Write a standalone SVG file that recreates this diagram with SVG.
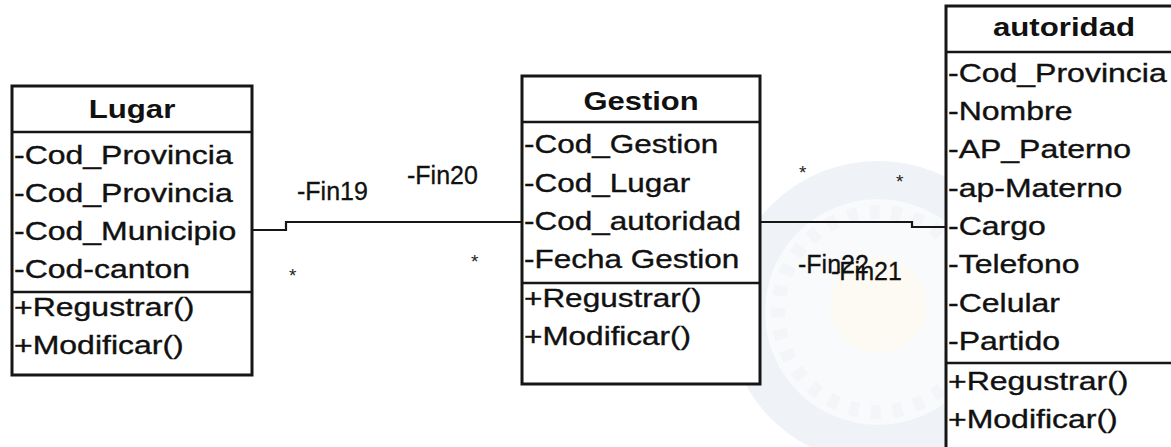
<svg xmlns="http://www.w3.org/2000/svg" width="1171" height="447" viewBox="0 0 1171 447">
  <style>
    .box { fill: #ffffff; stroke: #161616; stroke-width: 3; }
    .sep { stroke: #161616; stroke-width: 2.5; }
    .title { font-family: "Liberation Sans", Arial, sans-serif; font-size: 26px; font-weight: bold; fill: #111111; text-anchor: middle; }
    .attr { font-family: "Liberation Sans", Arial, sans-serif; font-size: 25px; fill: #111111; stroke: #111111; stroke-width: 0.35; }
    .role { font-family: "Liberation Sans", Arial, sans-serif; font-size: 25px; fill: #111111; stroke: #111111; stroke-width: 0.3; }
    .mult { font-family: "Liberation Sans", Arial, sans-serif; font-size: 19px; fill: #222222; }
    .link { fill: none; stroke: #161616; stroke-width: 2.2; }
  </style>

  <rect x="0" y="0" width="1171" height="447" fill="#ffffff"/>

  <!-- faint seal in the background -->
  <g id="seal" opacity="0.55">
    <circle cx="878" cy="312" r="150" fill="#f4f6f9"/>
    <circle cx="878" cy="312" r="132" fill="none" stroke="#e2e8ef" stroke-width="38"/>
    <circle cx="878" cy="312" r="100" fill="none" stroke="#eaeef3" stroke-width="14" stroke-dasharray="10 12"/>
    <circle cx="878" cy="305" r="48" fill="#faf7e8"/>
  </g>

  <!-- associations -->
  <g id="connectors">
    <polyline class="link" points="252,230 286,230 286,222 522,222"/>
    <polyline class="link" points="760,222 912,222 912,227 946,227"/>
    <text class="role" x="297" y="200">-Fin19</text>
    <text class="role" x="407" y="184">-Fin20</text>
    <text class="mult" x="289" y="282">*</text>
    <text class="mult" x="471" y="268">*</text>
    <text class="mult" x="799" y="179">*</text>
    <text class="mult" x="896" y="188">*</text>
    <text class="role" x="798" y="273">-Fin22</text>
    <text class="role" x="831" y="280">-Fin21</text>
  </g>

  <!-- class Lugar -->
  <g id="lugar">
    <rect class="box" x="12" y="86" width="240" height="289"/>
    <line class="sep" x1="12" y1="132" x2="252" y2="132"/>
    <line class="sep" x1="12" y1="292" x2="252" y2="292"/>
    <text class="title" transform="translate(132 118) scale(1.2 1)">Lugar</text>
    <g transform="translate(14 0) scale(1.28 1)">
      <text class="attr" y="164">-Cod_Provincia</text>
      <text class="attr" y="202">-Cod_Provincia</text>
      <text class="attr" y="240">-Cod_Municipio</text>
      <text class="attr" y="278">-Cod-canton</text>
      <text class="attr" y="316">+Regustrar()</text>
      <text class="attr" y="354">+Modificar()</text>
    </g>
  </g>

  <!-- class Gestion -->
  <g id="gestion">
    <rect class="box" x="522" y="76" width="238" height="308"/>
    <line class="sep" x1="522" y1="122" x2="760" y2="122"/>
    <line class="sep" x1="522" y1="283" x2="760" y2="283"/>
    <text class="title" transform="translate(641 110) scale(1.19 1)">Gestion</text>
    <g transform="translate(524 0) scale(1.26 1)">
      <text class="attr" y="153">-Cod_Gestion</text>
      <text class="attr" y="192">-Cod_Lugar</text>
      <text class="attr" y="230">-Cod_autoridad</text>
      <text class="attr" y="268">-Fecha Gestion</text>
      <text class="attr" y="307">+Regustrar()</text>
      <text class="attr" y="345">+Modificar()</text>
    </g>
  </g>

  <!-- class autoridad -->
  <g id="autoridad">
    <rect class="box" x="946" y="6" width="236" height="448"/>
    <line class="sep" x1="946" y1="52" x2="1182" y2="52"/>
    <line class="sep" x1="946" y1="363" x2="1182" y2="363"/>
    <text class="title" transform="translate(1064 36) scale(1.2 1)">autoridad</text>
    <g transform="translate(948 0) scale(1.28 1)">
      <text class="attr" y="82">-Cod_Provincia</text>
      <text class="attr" y="120">-Nombre</text>
      <text class="attr" y="158">-AP_Paterno</text>
      <text class="attr" y="197">-ap-Materno</text>
      <text class="attr" y="235">-Cargo</text>
      <text class="attr" y="273">-Telefono</text>
      <text class="attr" y="312">-Celular</text>
      <text class="attr" y="350">-Partido</text>
      <text class="attr" y="390">+Regustrar()</text>
      <text class="attr" y="428">+Modificar()</text>
    </g>
  </g>
</svg>
